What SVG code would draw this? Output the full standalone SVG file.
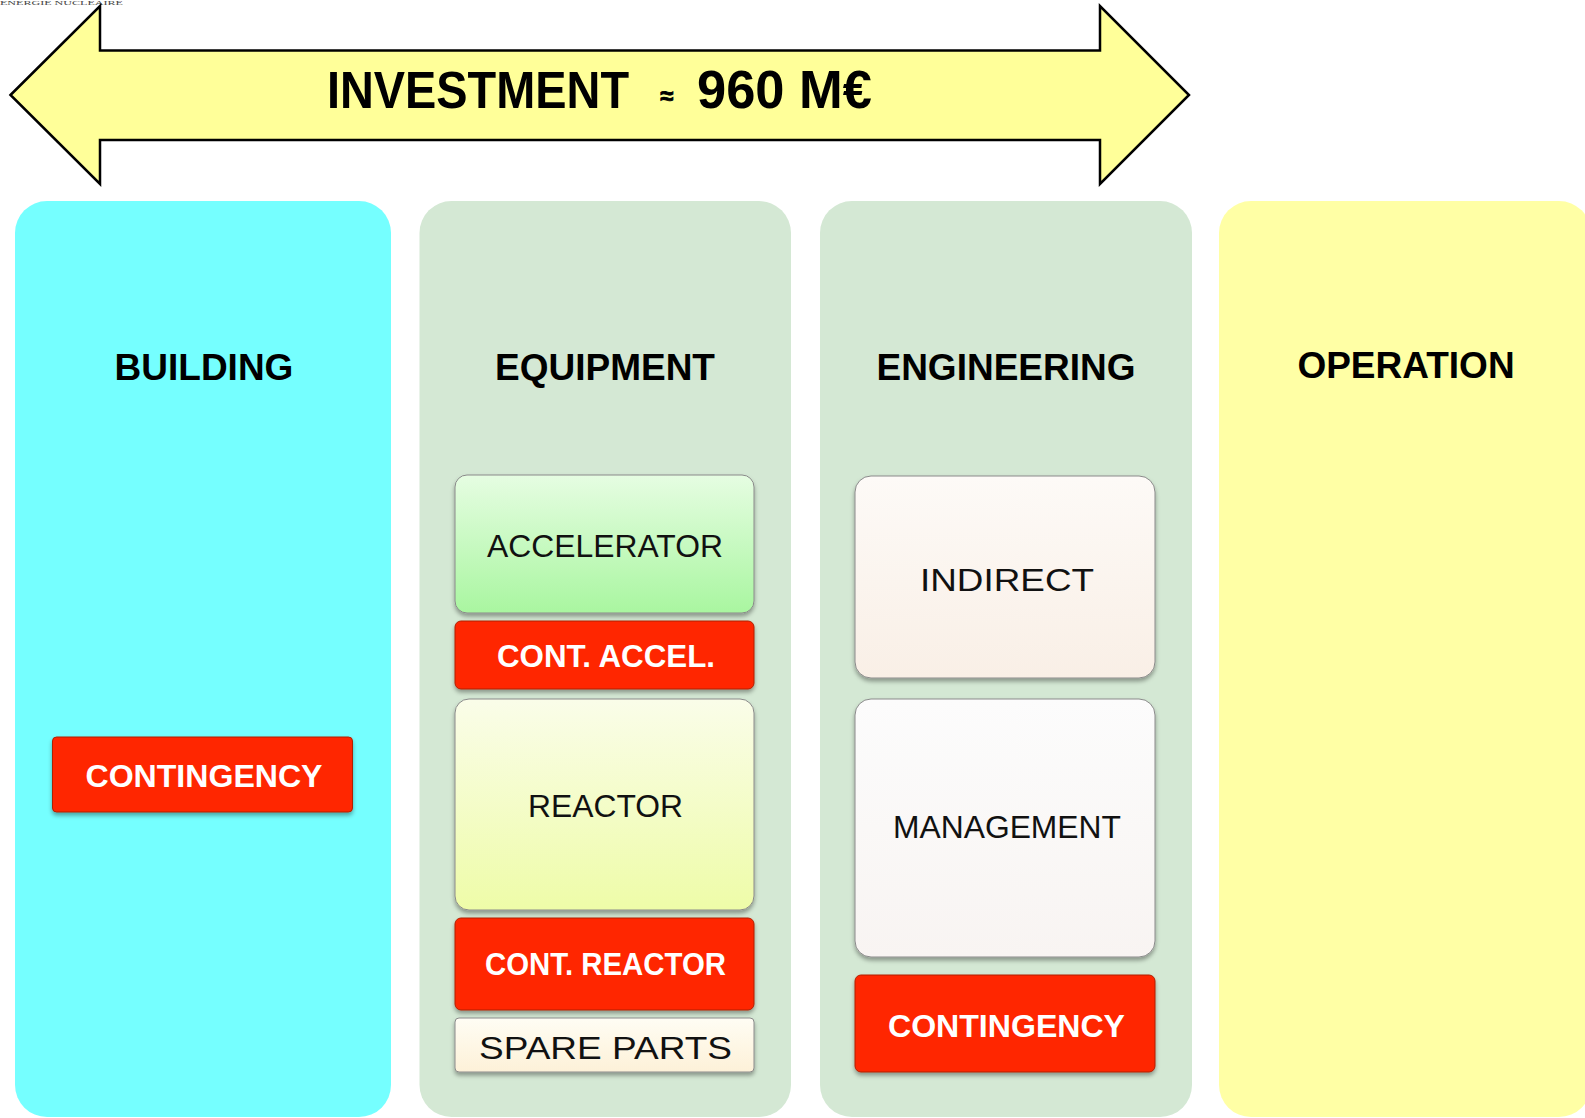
<svg xmlns="http://www.w3.org/2000/svg" width="1585" height="1118" viewBox="0 0 1585 1118">
<style>
.hdr{font-family:"Liberation Sans",Arial,sans-serif;font-weight:bold;font-size:37px;fill:#000;text-anchor:middle}
.lbl{font-family:"Liberation Sans",Arial,sans-serif;font-size:32px;fill:#111;text-anchor:middle}
.red{font-family:"Liberation Sans",Arial,sans-serif;font-weight:bold;font-size:31px;fill:#fff;text-anchor:middle}
.box{stroke:#8a8a8a;stroke-width:1;filter:url(#sh)}
.rbox{fill:#ff2600;stroke:#b02000;stroke-width:1;filter:url(#sh)}
</style>
<defs>
<filter id="sh" x="-10%" y="-10%" width="120%" height="130%">
<feDropShadow dx="0" dy="3" stdDeviation="2" flood-color="#000" flood-opacity="0.35"/>
</filter>
<linearGradient id="gAcc" x1="0" y1="0" x2="0" y2="1"><stop offset="0" stop-color="#e6fde2"/><stop offset="1" stop-color="#a9f6a0"/></linearGradient>
<linearGradient id="gRea" x1="0" y1="0" x2="0" y2="1"><stop offset="0" stop-color="#fafde9"/><stop offset="1" stop-color="#eefca8"/></linearGradient>
<linearGradient id="gSpa" x1="0" y1="0" x2="0" y2="1"><stop offset="0" stop-color="#fffdf4"/><stop offset="1" stop-color="#fdf1d8"/></linearGradient>
<linearGradient id="gInd" x1="0" y1="0" x2="0" y2="1"><stop offset="0" stop-color="#fdfaf7"/><stop offset="1" stop-color="#f9efe6"/></linearGradient>
<linearGradient id="gMan" x1="0" y1="0" x2="0" y2="1"><stop offset="0" stop-color="#fcfcfc"/><stop offset="1" stop-color="#f8f4f2"/></linearGradient>
</defs>

<text x="0" y="5" font-family="Liberation Serif,serif" font-size="7" fill="#444" textLength="123" lengthAdjust="spacingAndGlyphs">ENERGIE NUCLEAIRE</text>

<g id="investment">
<path d="M10.5,95 L100,6 L100,50.5 L1100,50.5 L1100,6 L1189,95 L1100,184 L1100,140 L100,140 L100,184 Z" fill="#ffff99" stroke="#000" stroke-width="2.5" stroke-linejoin="miter"/>
<text y="108" font-family="Liberation Sans,Arial,sans-serif" font-weight="bold" fill="#000">
<tspan x="327" font-size="51" textLength="302" lengthAdjust="spacingAndGlyphs">INVESTMENT</tspan>
<tspan x="660" y="104" font-size="24" stroke="#000" stroke-width="0.8">≈</tspan>
<tspan x="697" y="108" font-size="54" textLength="175" lengthAdjust="spacingAndGlyphs">960 M€</tspan>
</text>
</g>

<g id="building">
<rect x="15" y="201" width="376" height="916" rx="32" fill="#75ffff"/>
<text class="hdr" x="204" y="380">BUILDING</text>
</g>
<g id="equipment">
<rect x="419.5" y="201" width="371.5" height="916" rx="32" fill="#d4e8d4"/>
<text class="hdr" x="605" y="380">EQUIPMENT</text>
</g>
<g id="engineering">
<rect x="820" y="201" width="372" height="916" rx="32" fill="#d4e8d4"/>
<text class="hdr" x="1006" y="380">ENGINEERING</text>
</g>
<g id="operation">
<rect x="1219" y="201" width="372" height="916" rx="32" fill="#ffffa5"/>
<text class="hdr" x="1406" y="378">OPERATION</text>
</g>

<g id="building-contingency">
<rect class="rbox" x="52.5" y="737" width="300" height="75" rx="4"/>
<text class="red" x="204" y="787" textLength="237" lengthAdjust="spacingAndGlyphs">CONTINGENCY</text>
</g>

<g id="accelerator">
<rect class="box" x="455" y="475" width="299" height="138" rx="12" fill="url(#gAcc)"/>
<text class="lbl" x="605" y="557" textLength="236" lengthAdjust="spacingAndGlyphs">ACCELERATOR</text>
</g>
<g id="cont-accel">
<rect class="rbox" x="455" y="621" width="299" height="68" rx="6"/>
<text class="red" x="606" y="667" textLength="218" lengthAdjust="spacingAndGlyphs">CONT. ACCEL.</text>
</g>
<g id="reactor">
<rect class="box" x="455" y="699" width="299" height="211" rx="14" fill="url(#gRea)"/>
<text class="lbl" x="605.5" y="817" textLength="155" lengthAdjust="spacingAndGlyphs">REACTOR</text>
</g>
<g id="cont-reactor">
<rect class="rbox" x="455" y="918" width="299" height="92" rx="6"/>
<text class="red" x="605.5" y="975" font-size="28" textLength="241" lengthAdjust="spacingAndGlyphs">CONT. REACTOR</text>
</g>
<g id="spare-parts">
<rect class="box" x="455" y="1018" width="299" height="54" rx="4" fill="url(#gSpa)"/>
<text class="lbl" x="605.5" y="1059" font-size="36" fill="#000" textLength="253" lengthAdjust="spacingAndGlyphs">SPARE PARTS</text>
</g>

<g id="indirect">
<rect class="box" x="855" y="476" width="300" height="202" rx="16" fill="url(#gInd)"/>
<text class="lbl" x="1007" y="591" font-size="35" textLength="174" lengthAdjust="spacingAndGlyphs">INDIRECT</text>
</g>
<g id="management">
<rect class="box" x="855" y="699" width="300" height="258" rx="16" fill="url(#gMan)"/>
<text class="lbl" x="1007" y="838" textLength="228" lengthAdjust="spacingAndGlyphs">MANAGEMENT</text>
</g>
<g id="eng-contingency">
<rect class="rbox" x="855" y="975" width="300" height="97" rx="6"/>
<text class="red" x="1006.5" y="1037" textLength="237" lengthAdjust="spacingAndGlyphs">CONTINGENCY</text>
</g>

<g id="connectors"></g>
</svg>
